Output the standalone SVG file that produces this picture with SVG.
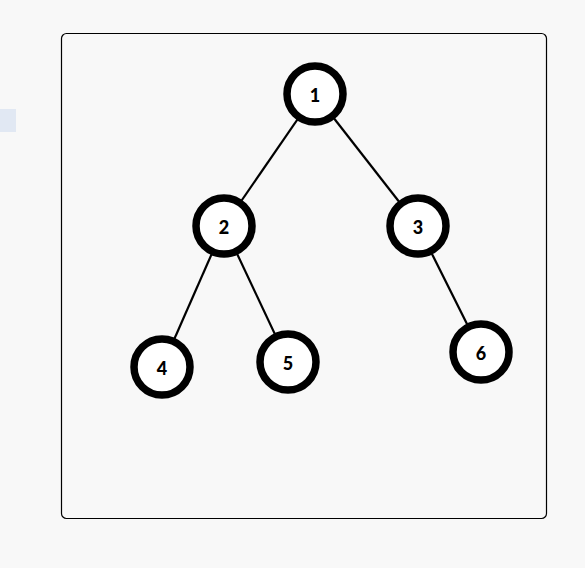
<svg xmlns="http://www.w3.org/2000/svg" width="585" height="568" viewBox="0 0 585 568">
<style>
.edge{stroke:#000;stroke-width:2.2;fill:none}
.node circle{fill:#fff;stroke:#000;stroke-width:7.5}
.node text{font-family:Lato,"Liberation Sans",sans-serif;font-weight:900;font-size:18px;fill:#000;text-anchor:middle;dominant-baseline:central}
</style>
<rect x="0" y="0" width="585" height="568" fill="#f8f8f8"/>
<rect x="0" y="109" width="16" height="23" fill="#e1e8f3"/>
<rect id="frame" x="61.5" y="33.5" width="485" height="485" rx="5" fill="#f8f8f8" stroke="#000" stroke-width="1.2"/>
<g id="connectors">
<line class="edge" x1="315" y1="94" x2="224" y2="226"/>
<line class="edge" x1="315" y1="94" x2="418" y2="226"/>
<line class="edge" x1="224" y1="226" x2="162" y2="367"/>
<line class="edge" x1="224" y1="226" x2="288" y2="362"/>
<line class="edge" x1="418" y1="226" x2="481" y2="352"/>
</g>
<g id="n1" class="node"><circle cx="315" cy="94" r="28"/><text x="315" y="95">1</text></g>
<g id="n2" class="node"><circle cx="224" cy="226" r="28"/><text x="224" y="227">2</text></g>
<g id="n3" class="node"><circle cx="418" cy="226" r="28"/><text x="418" y="227">3</text></g>
<g id="n4" class="node"><circle cx="162" cy="367" r="28"/><text x="162" y="368">4</text></g>
<g id="n5" class="node"><circle cx="288" cy="362" r="28"/><text x="288" y="363">5</text></g>
<g id="n6" class="node"><circle cx="481" cy="352" r="28"/><text x="481" y="353">6</text></g>
</svg>
